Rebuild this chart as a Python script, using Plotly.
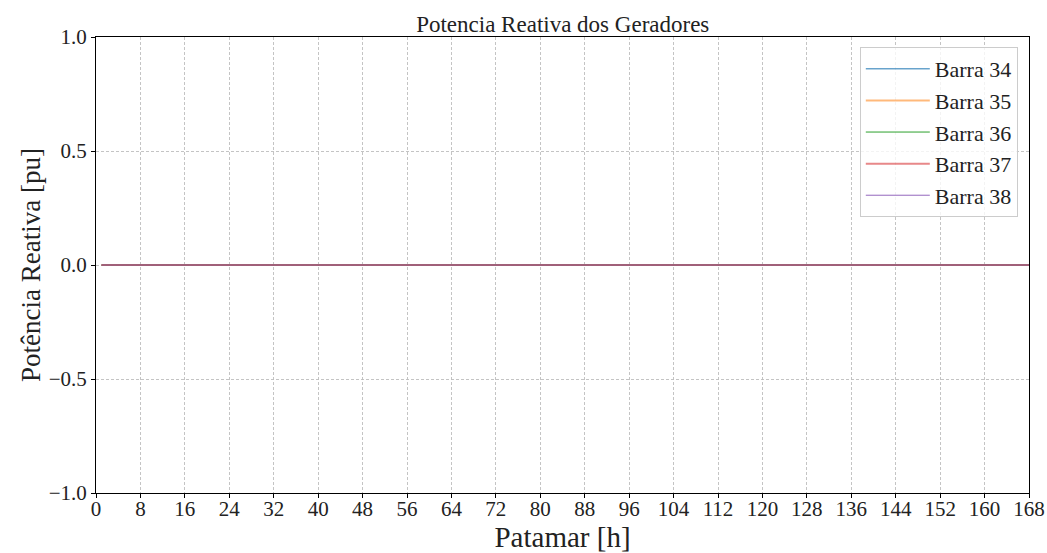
import plotly.graph_objects as go

# Hourly steps of the week and reactive power per generator bus
patamar = list(range(1, 169))
series_names = ["Barra 34", "Barra 35", "Barra 36", "Barra 37", "Barra 38"]
q_barra34 = [0.0] * 168
q_barra35 = [0.0] * 168
q_barra36 = [0.0] * 168
q_barra37 = [0.0] * 168
q_barra38 = [0.0] * 168
series_values = [q_barra34, q_barra35, q_barra36, q_barra37, q_barra38]

x_ticks = list(range(0, 169, 8))
y_ticks = [-1.0, -0.5, 0.0, 0.5, 1.0]
y_tick_text = ["\u22121.0", "\u22120.5", "0.0", "0.5", "1.0"]

styles = [
    dict(color="#1f77b4", width=1),
    dict(color="rgba(255,127,14,0.55)", width=2),
    dict(color="#2ca02c", width=1),
    dict(color="rgba(214,39,40,0.55)", width=2),
    dict(color="#9467bd", width=1),
]

FONT = "Liberation Serif, DejaVu Serif, serif"

fig = go.Figure()
for name, vals, st in zip(series_names, series_values, styles):
    fig.add_trace(go.Scatter(x=patamar, y=vals, mode="lines", name=name, line=st))

axis_common = dict(
    showline=True, linecolor="black", linewidth=1, mirror=True,
    ticks="outside", ticklen=4, tickcolor="black",
    showgrid=True, gridcolor="rgba(190,190,190,0.9)", griddash="3px,2px", gridwidth=0.7,
    zeroline=False, tickfont=dict(family=FONT, size=21, color="#222"),
    automargin=False,
)

fig.update_layout(
    width=1047, height=553,
    margin=dict(l=96, r=18, t=37, b=60),
    paper_bgcolor="white", plot_bgcolor="white",
    title=dict(text="Potencia Reativa dos Geradores", x=0.5375, xanchor="center",
               y=0.957, yanchor="middle", font=dict(family=FONT, size=23, color="#222")),
    xaxis=dict(range=[0, 168], tickvals=x_ticks, ticktext=[str(v) for v in x_ticks],
               ticklabelstandoff=-7,
               title=dict(text="Patamar [h]", font=dict(family=FONT, size=29, color="#222"),
                          standoff=16),
               **axis_common),
    yaxis=dict(range=[-1, 1], tickvals=y_ticks, ticktext=y_tick_text,
               title=dict(text="Potência Reativa [pu]", font=dict(family=FONT, size=27, color="#222"),
                          standoff=0),
               **axis_common),
    legend=dict(x=0.988, y=0.978, xanchor="right", yanchor="top",
                bgcolor="rgba(255,255,255,0.8)", bordercolor="#cccccc", borderwidth=1,
                font=dict(family=FONT, size=22, color="#222"), tracegroupgap=0,
                itemwidth=64),
    showlegend=True,
)

fig.write_html("out.html")
